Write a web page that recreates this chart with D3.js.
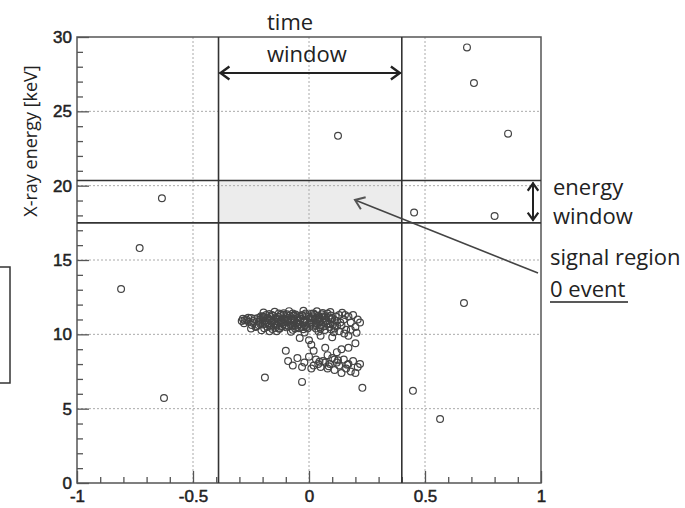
<!DOCTYPE html>
<html>
<head>
<meta charset="utf-8">
<script src="https://cdnjs.cloudflare.com/ajax/libs/d3/7.8.5/d3.min.js"></script>
<style>
    body { margin: 0; background: #fff; }
    text { font-family: "Open Sans", sans-serif; fill: #222; }
    .tick text { font-family: "Liberation Sans", Arial, sans-serif; fill: #222; stroke: #222; stroke-width: 0.5px; }
</style>
</head>
<body>
<div id="chart"></div>
<script>
// axis ticks
var x_ticks         =   [-1, -0.5, 0, 0.5, 1];
var x_tick_labels   =   ['-1', '-0.5', '0', '0.5', '1'];
var x_minor_ticks   =   [-0.9, -0.8, -0.7, -0.6, -0.4, -0.3, -0.2, -0.1, 0.1, 0.2, 0.3, 0.4, 0.6, 0.7, 0.8, 0.9];
var y_ticks         =   [0, 5, 10, 15, 20, 25, 30];
var y_minor_ticks   =   [1, 2, 3, 4, 6, 7, 8, 9, 11, 12, 13, 14, 16, 17, 18, 19, 21, 22, 23, 24, 26, 27, 28, 29];

// windows
var time_window     =   [-0.39, 0.40];
var energy_window   =   [17.5, 20.35];

// events [time, energy]
var scattered_events = [
    [-0.81, 13.05], [-0.73, 15.8], [-0.634, 19.15], [-0.625, 5.72],
    [0.125, 23.35], [0.453, 18.2], [0.80, 17.96], [0.668, 12.1],
    [0.681, 29.3], [0.711, 26.9], [0.858, 23.5], [0.448, 6.2], [0.565, 4.3]
];

var cluster_events = [
    // upper band
    [-0.29, 10.9], [-0.285, 11.05], [-0.28, 10.75], [-0.27, 11.0], [-0.26, 10.85],
    [-0.25, 11.1], [-0.24, 10.9], [-0.23, 10.5], [-0.22, 11.1], [-0.21, 10.7],
    [-0.20, 11.2], [-0.19, 10.9], [-0.18, 10.5], [-0.17, 11.0], [-0.16, 11.3],
    [-0.15, 10.7], [-0.14, 11.1], [-0.13, 10.4], [-0.12, 10.9], [-0.11, 11.3],
    [-0.10, 10.6], [-0.09, 11.0], [-0.08, 10.8], [-0.07, 11.4], [-0.06, 10.4],
    [-0.05, 11.1], [-0.04, 10.7], [-0.03, 11.3], [-0.02, 10.9], [-0.01, 10.5],
    [0.00, 11.2], [0.01, 10.8], [0.02, 11.4], [0.03, 10.6], [0.04, 11.0],
    [0.05, 10.4], [0.06, 11.2], [0.07, 10.9], [0.08, 11.4], [0.09, 10.7],
    [0.10, 11.1], [0.11, 10.4], [0.12, 10.9], [0.13, 11.3], [0.14, 10.6],
    [0.15, 11.0], [0.16, 10.3], [0.17, 11.2], [0.18, 10.8], [0.19, 11.3],
    [0.20, 10.5], [0.21, 11.0], [0.22, 10.8],
    [-0.235, 11.05], [-0.215, 10.85], [-0.195, 11.15], [-0.175, 10.75], [-0.155, 11.25],
    [-0.135, 10.85], [-0.115, 10.55], [-0.095, 11.35], [-0.075, 10.95], [-0.055, 10.75],
    [-0.035, 11.05], [-0.015, 11.4], [0.005, 10.65], [0.025, 11.05], [0.045, 10.85],
    [0.065, 10.55], [0.085, 11.15], [-0.225, 10.55], [-0.185, 11.3], [-0.145, 10.45],
    [-0.105, 11.05], [-0.065, 11.25], [-0.025, 10.35], [0.015, 11.15], [0.055, 11.35],
    [0.095, 10.35], [-0.12, 10.95], [-0.08, 10.65], [-0.04, 10.95], [0.0, 10.75],
    [0.04, 11.25], [-0.16, 10.85], [-0.20, 10.95], [-0.10, 11.15], [-0.02, 11.0],
    [0.06, 10.8], [-0.17, 10.6], [-0.07, 10.3], [0.03, 10.4], [-0.13, 11.4],
    [-0.05, 10.5], [0.115, 11.2], [0.135, 10.8], [0.155, 11.3],
    [-0.218, 10.62], [-0.207, 11.21], [-0.193, 10.41], [-0.182, 10.83], [-0.171, 11.37],
    [-0.163, 10.52], [-0.152, 10.97], [-0.141, 10.66], [-0.133, 11.18], [-0.127, 10.38],
    [-0.118, 10.74], [-0.109, 11.42], [-0.098, 10.47], [-0.091, 10.83], [-0.083, 11.27],
    [-0.072, 10.58], [-0.066, 10.91], [-0.058, 11.33], [-0.047, 10.63], [-0.039, 11.19],
    [-0.031, 10.47], [-0.022, 10.81], [-0.013, 11.29], [-0.006, 10.39], [0.008, 10.96],
    [0.017, 10.52], [0.024, 11.31], [0.033, 10.74], [0.042, 11.12], [0.051, 10.61],
    [0.059, 11.44], [0.068, 10.29], [0.076, 10.88], [0.087, 10.49], [0.094, 11.27],
    [0.103, 10.64], [0.112, 10.94], [0.121, 10.58], [-0.212, 10.98], [-0.199, 10.66],
    [-0.176, 11.08], [-0.158, 10.36], [-0.137, 11.02], [-0.121, 11.31], [-0.103, 10.81],
    [-0.087, 10.52], [-0.069, 11.07], [-0.051, 10.93], [-0.044, 10.41], [-0.028, 11.24],
    [-0.009, 10.86], [0.011, 11.38], [0.028, 10.71], [0.047, 10.48], [0.063, 11.09],
    [0.081, 10.71], [0.099, 11.02], [-0.143, 10.58], [-0.112, 10.68], [-0.062, 10.63],
    [-0.017, 10.59], [0.036, 10.93], [-0.188, 10.71], [-0.166, 11.19], [-0.128, 10.77],
    [-0.094, 10.99], [-0.052, 11.21], [0.002, 11.08], [0.072, 11.21], [-0.241, 10.77],
    [-0.262, 11.12], [-0.278, 10.94], [-0.247, 10.63],
    [-0.148, 11.52], [-0.086, 11.56], [-0.024, 11.58], [0.034, 11.55], [0.092, 11.5],
    [0.143, 11.45], [-0.196, 11.47], [-0.139, 10.21], [-0.078, 10.17], [-0.019, 10.12],
    [0.041, 10.19], [0.107, 10.14], [-0.205, 10.28], [0.152, 10.05],
    // lower edge of upper band
    [0.18, 10.3], [0.17, 9.9], [0.10, 9.8], [-0.04, 9.75], [0.0, 9.6],
    [0.05, 9.9], [0.13, 10.2], [-0.17, 10.2], [-0.25, 10.4], [0.205, 10.1],
    // middle
    [-0.10, 8.9], [0.02, 8.9], [0.07, 9.1], [0.12, 8.8], [0.17, 9.1],
    [0.20, 9.4], [0.01, 9.3], [0.14, 9.0], [0.08, 8.6],
    // lower band
    [-0.05, 8.4], [-0.07, 7.9], [-0.02, 8.1], [0.0, 8.5], [0.02, 7.9],
    [0.03, 8.3], [0.05, 7.8], [0.06, 8.2], [0.08, 7.7], [0.09, 8.0],
    [0.10, 8.4], [0.11, 7.6], [0.12, 8.1], [0.13, 7.9], [0.15, 8.3],
    [0.16, 7.7], [0.17, 8.0], [0.18, 7.5], [0.19, 8.2], [0.21, 7.8],
    [0.22, 8.0], [0.20, 7.4], [-0.09, 8.2], [0.04, 8.0], [0.14, 7.4],
    [0.01, 7.7], [-0.03, 7.8], [0.07, 8.1], [0.11, 8.3], [0.045, 8.15],
    [0.085, 7.85], [0.125, 8.25], [0.165, 7.95],
    // outliers below
    [-0.19, 7.1], [-0.03, 6.8], [0.23, 6.4]
];

// Create SVG Element
var chart_width     =   685;
var chart_height    =   508;
var svg             =   d3.select( '#chart' )
    .append( 'svg' )
    .attr( 'width', chart_width )
    .attr( 'height', chart_height );

// create scales
var x_scale = d3.scaleLinear()
    .domain([-1, 1])
    .range([77, 541]);

var y_scale = d3.scaleLinear()
    .domain([0, 30])
    .range([483, 37]);

// shaded signal region
svg.append( 'rect' )
    .attr( 'x', x_scale(time_window[0]) )
    .attr( 'y', y_scale(energy_window[1]) )
    .attr( 'width', x_scale(time_window[1]) - x_scale(time_window[0]) )
    .attr( 'height', y_scale(energy_window[0]) - y_scale(energy_window[1]) )
    .attr( 'fill', '#ececec' );

// grid
svg.selectAll( '.vgrid' )
    .data( [-0.5, 0, 0.5] )
    .enter()
    .append( 'line' )
    .attr( 'x1', function(d){ return x_scale(d); } )
    .attr( 'x2', function(d){ return x_scale(d); } )
    .attr( 'y1', y_scale(30) )
    .attr( 'y2', y_scale(0) )
    .attr( 'stroke', '#aaa' )
    .attr( 'stroke-dasharray', '2,2' );

svg.selectAll( '.hgrid' )
    .data( [5, 10, 15, 20, 25] )
    .enter()
    .append( 'line' )
    .attr( 'x1', x_scale(-1) )
    .attr( 'x2', x_scale(1) )
    .attr( 'y1', function(d){ return y_scale(d); } )
    .attr( 'y2', function(d){ return y_scale(d); } )
    .attr( 'stroke', '#aaa' )
    .attr( 'stroke-dasharray', '2,2' );

// axes
var x_axis = d3.axisBottom( x_scale )
    .tickValues( x_ticks )
    .tickFormat( function(d, i){ return x_tick_labels[i]; } )
    .tickSizeInner( -12 )
    .tickSizeOuter( 0 )
    .tickPadding( 7 );

var x_axis_minor = d3.axisBottom( x_scale )
    .tickValues( x_minor_ticks )
    .tickFormat( '' )
    .tickSizeInner( -6 )
    .tickSizeOuter( 0 );

var y_axis = d3.axisLeft( y_scale )
    .tickValues( y_ticks )
    .tickSizeInner( -12 )
    .tickSizeOuter( 0 )
    .tickPadding( 5 );

var y_axis_minor = d3.axisLeft( y_scale )
    .tickValues( y_minor_ticks )
    .tickFormat( '' )
    .tickSizeInner( -6 )
    .tickSizeOuter( 0 );

[x_axis, x_axis_minor].forEach(function(ax){
    svg.append( 'g' )
        .attr( 'transform', 'translate(0,' + y_scale(0) + ')' )
        .call( ax );
});
[y_axis, y_axis_minor].forEach(function(ax){
    svg.append( 'g' )
        .attr( 'transform', 'translate(' + x_scale(-1) + ',0)' )
        .call( ax );
});

svg.selectAll( '.domain' ).remove();
svg.selectAll( '.tick line' )
    .attr( 'stroke', '#555' )
    .attr( 'stroke-width', 1.3 );
svg.selectAll( '.tick text' )
    .attr( 'font-size', 17 );

// frame
svg.append( 'rect' )
    .attr( 'x', x_scale(-1) )
    .attr( 'y', y_scale(30) )
    .attr( 'width', x_scale(1) - x_scale(-1) )
    .attr( 'height', y_scale(0) - y_scale(30) )
    .attr( 'fill', 'none' )
    .attr( 'stroke', '#555' )
    .attr( 'stroke-width', 1.5 );

// window lines
svg.selectAll( '.tline' )
    .data( time_window )
    .enter()
    .append( 'line' )
    .attr( 'x1', function(d){ return x_scale(d); } )
    .attr( 'x2', function(d){ return x_scale(d); } )
    .attr( 'y1', y_scale(30) )
    .attr( 'y2', y_scale(0) )
    .attr( 'stroke', '#333' )
    .attr( 'stroke-width', 1.6 );

svg.selectAll( '.eline' )
    .data( energy_window )
    .enter()
    .append( 'line' )
    .attr( 'x1', x_scale(-1) )
    .attr( 'x2', x_scale(1) )
    .attr( 'y1', function(d){ return y_scale(d); } )
    .attr( 'y2', function(d){ return y_scale(d); } )
    .attr( 'stroke', '#333' )
    .attr( 'stroke-width', 1.6 );

// events
svg.selectAll( '.event' )
    .data( scattered_events.concat(cluster_events) )
    .enter()
    .append( 'circle' )
    .attr( 'cx', function(d){ return x_scale(d[0]); } )
    .attr( 'cy', function(d){ return y_scale(d[1]); } )
    .attr( 'r', 3.4 )
    .attr( 'fill', 'none' )
    .attr( 'stroke', '#444' )
    .attr( 'stroke-width', 1.2 );

// arrows
function chevron(x, y, angle, size, color, width){
    var a1 = angle + Math.PI * 0.8, a2 = angle - Math.PI * 0.8;
    svg.append( 'path' )
        .attr( 'd', 'M' + (x + size * Math.cos(a1)) + ',' + (y + size * Math.sin(a1)) +
            'L' + x + ',' + y +
            'L' + (x + size * Math.cos(a2)) + ',' + (y + size * Math.sin(a2)) )
        .attr( 'fill', 'none' )
        .attr( 'stroke', color )
        .attr( 'stroke-width', width );
}

// time window arrow
var ta_y = 73;
svg.append( 'line' )
    .attr( 'x1', x_scale(time_window[0]) + 1 )
    .attr( 'x2', x_scale(time_window[1]) - 1 )
    .attr( 'y1', ta_y )
    .attr( 'y2', ta_y )
    .attr( 'stroke', '#222' )
    .attr( 'stroke-width', 2 );
chevron(x_scale(time_window[0]) + 2, ta_y, Math.PI, 11, '#222', 2.4);
chevron(x_scale(time_window[1]) - 2, ta_y, 0, 11, '#222', 2.4);

// energy window arrow
var ea_x = 533;
svg.append( 'line' )
    .attr( 'x1', ea_x )
    .attr( 'x2', ea_x )
    .attr( 'y1', y_scale(energy_window[1]) + 2 )
    .attr( 'y2', y_scale(energy_window[0]) - 2 )
    .attr( 'stroke', '#222' )
    .attr( 'stroke-width', 2 );
chevron(ea_x, y_scale(energy_window[1]) + 3, -Math.PI / 2, 9, '#222', 2.2);
chevron(ea_x, y_scale(energy_window[0]) - 3, Math.PI / 2, 9, '#222', 2.2);

// signal region pointer
var sx0 = 538, sy0 = 273, sx1 = 355, sy1 = 200;
svg.append( 'line' )
    .attr( 'x1', sx0 )
    .attr( 'y1', sy0 )
    .attr( 'x2', sx1 )
    .attr( 'y2', sy1 )
    .attr( 'stroke', '#444' )
    .attr( 'stroke-width', 1.6 );
chevron(sx1, sy1, Math.atan2(sy1 - sy0, sx1 - sx0), 11, '#555', 2);

// annotations
var notes = [
    {t: 'time', x: 267, y: 30},
    {t: 'window', x: 267, y: 62},
    {t: 'energy', x: 553, y: 195},
    {t: 'window', x: 553, y: 224},
    {t: 'signal region', x: 550, y: 265},
    {t: '0 event', x: 550, y: 297}
];
svg.selectAll( '.note' )
    .data( notes )
    .enter()
    .append( 'text' )
    .text( function(d){ return d.t; } )
    .attr( 'x', function(d){ return d.x; } )
    .attr( 'y', function(d){ return d.y; } )
    .attr( 'font-size', 22 );

svg.append( 'line' )
    .attr( 'x1', 550 )
    .attr( 'x2', 628 )
    .attr( 'y1', 302 )
    .attr( 'y2', 302 )
    .attr( 'stroke', '#222' )
    .attr( 'stroke-width', 1.6 );

// y axis title
svg.append( 'text' )
    .text( 'X-ray energy [keV]' )
    .attr( 'transform', 'translate(37,141) rotate(-90)' )
    .attr( 'text-anchor', 'middle' )
    .attr( 'font-size', 18 );

// box cut at the left edge
svg.append( 'rect' )
    .attr( 'x', -20 )
    .attr( 'y', 267 )
    .attr( 'width', 30 )
    .attr( 'height', 116 )
    .attr( 'fill', 'none' )
    .attr( 'stroke', '#333' )
    .attr( 'stroke-width', 1.5 );
</script>
</body>
</html>
